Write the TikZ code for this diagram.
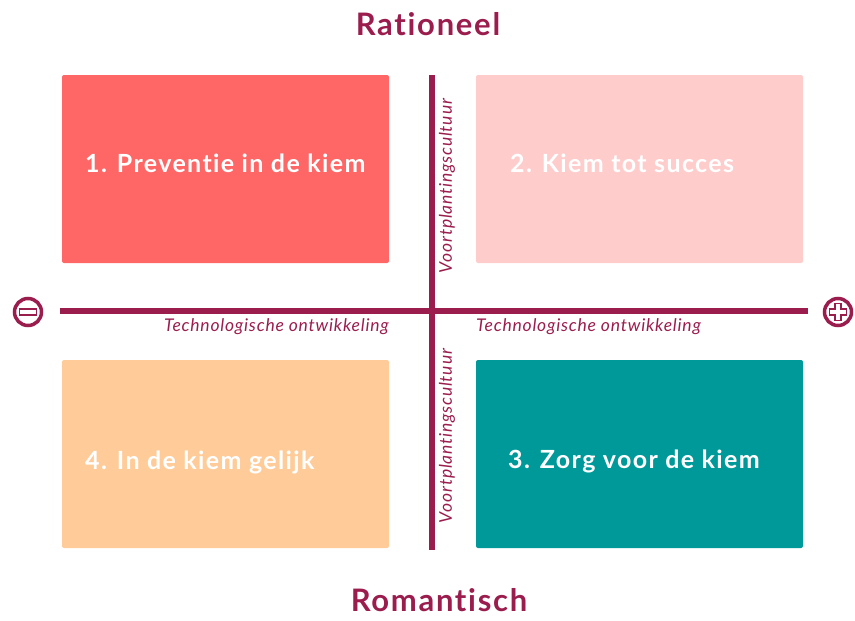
\documentclass[tikz,border=0pt]{standalone}
\usepackage{fontspec}
\setmainfont{Lato}
\newfontfamily\kopfont[LetterSpace=5.5, Ligatures=NoCommon]{Lato}
\newfontfamily\vakfont[LetterSpace=5.5, Ligatures=NoCommon]{Lato}
\newfontfamily\asfont[LetterSpace=4.5, Ligatures=NoCommon]{Lato}
\usetikzlibrary{positioning}
\definecolor{wijn}{HTML}{9B1D4E}
\definecolor{koraal}{HTML}{FF6666}
\definecolor{roze}{HTML}{FFCCCC}
\definecolor{perzik}{HTML}{FFCC99}
\definecolor{teal}{HTML}{009999}

\begin{document}
\begin{tikzpicture}[x=1pt,y=-1pt]
  \tikzset{kwadrant/.style={
      rectangle, rounded corners=2pt, minimum width=327pt, minimum height=188pt, inner sep=0pt
    },
    kwadranttekst/.style={anchor=west, inner sep=0pt, text=white, font=\vakfont\fontsize{25}{29}\selectfont\bfseries},
    pool/.style={font=\kopfont\fontsize{31}{35}\selectfont\bfseries, text=wijn, inner sep=0pt},
    aslabel/.style={font=\asfont\fontsize{17.5}{20}\selectfont\itshape, text=wijn, inner sep=0pt},
    as/.style={draw=wijn, line width=6pt},
    teken/.style={circle, draw=wijn, line width=3.5pt, minimum size=27pt, inner sep=0pt}
  }

  \useasboundingbox (0,0) rectangle (855,621);

  \node[pool] (rationeel) at (428,24) {Rationeel};
  \node[pool] (romantisch) at (439,600) {Romantisch};

  \node[kwadrant, fill=koraal] (K1) at (225.5,169) {};
  \node[kwadrant, fill=roze] (K2) at (639.5,169) {};
  \node[kwadrant, fill=teal] (K3) at (639.5,454) {};
  \node[kwadrant, fill=perzik] (K4) at (225.5,454) {};

  \node[kwadranttekst] (T1) at (85,163) {1. Preventie in de kiem};
  \node[kwadranttekst] (T2) at (510,163) {2. Kiem tot succes};
  \node[kwadranttekst] (T3) at (508,461) {3. Zorg voor de kiem};
  \node[kwadranttekst] (T4) at (85,462) {4. In de kiem gelijk};

  % assen
  \coordinate (links) at (60,311);
  \coordinate (rechts) at (808,311);
  \coordinate (boven) at (432,75);
  \coordinate (onder) at (432,550);
  \draw[as] (links) -- (rechts);
  \draw[as] (boven) -- (onder);

  \node[teken] (min) at (28,312) {};
  \node[teken] (plus) at (838,312) {};
  \draw[wijn, line width=1.6pt, fill=white] (19.5,309) rectangle (36.5,315);
  \draw[wijn, line width=1.6pt, fill=white]
    (829.5,309) -- (835,309) -- (835,303.5) -- (841,303.5) -- (841,309) -- (846.5,309)
    -- (846.5,315) -- (841,315) -- (841,320.5) -- (835,320.5) -- (835,315) -- (829.5,315) -- cycle;

  \node[aslabel, anchor=east] (tech1) at (389,327) {Technologische ontwikkeling};
  \node[aslabel, anchor=west] (tech2) at (476,327) {Technologische ontwikkeling};
  \node[aslabel, rotate=90] (cult1) at (447,186) {Voortplantingscultuur};
  \node[aslabel, rotate=90] (cult2) at (447,436) {Voortplantingscultuur};
\end{tikzpicture}
\end{document}
